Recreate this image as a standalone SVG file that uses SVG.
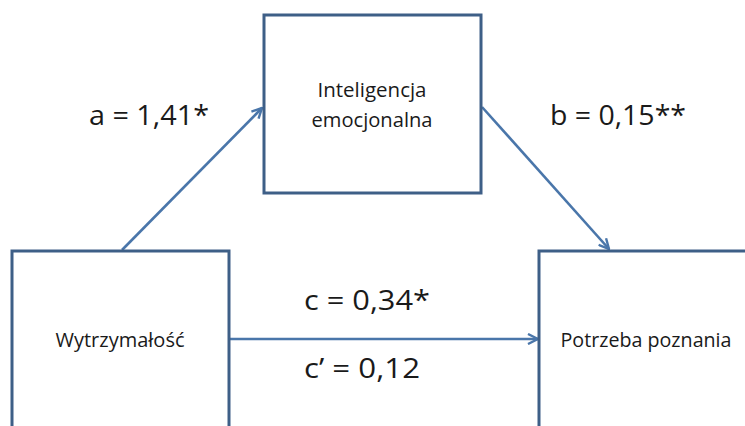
<svg xmlns="http://www.w3.org/2000/svg" width="745" height="426" viewBox="0 0 745 426">
<style>
.box{fill:#fff;stroke:#3e5f87;stroke-width:3}
.conn{stroke:#4a76aa;stroke-width:2.6;fill:none;marker-end:url(#arr)}
.lbl{font-family:"Open Sans","Liberation Sans",sans-serif;fill:#1a1a1a;font-size:28px}
.nt{font-family:"Open Sans","Liberation Sans",sans-serif;fill:#1a1a1a;font-size:20px;text-anchor:middle}
</style>
<defs>
<marker id="arr" viewBox="0 0 12 12" refX="11" refY="6" markerWidth="12" markerHeight="12" markerUnits="userSpaceOnUse" orient="auto">
<path d="M1,1 L11,6 L1,11" fill="none" stroke="#4a76aa" stroke-width="2.4"/>
</marker>
</defs>
<rect width="745" height="426" fill="#fff"/>
<g id="connectors">
<line class="conn" x1="122" y1="250" x2="262" y2="108"/>
<line class="conn" x1="482" y1="107" x2="609" y2="249"/>
<line class="conn" x1="230" y1="339" x2="538" y2="339"/>
</g>
<g id="node-inteligencja">
<rect class="box" x="264" y="15" width="217" height="178"/>
<text class="nt" x="372" y="97" textLength="109" lengthAdjust="spacingAndGlyphs">Inteligencja</text>
<text class="nt" x="372" y="127" textLength="121" lengthAdjust="spacingAndGlyphs">emocjonalna</text>
</g>
<g id="node-wytrzymalosc">
<rect class="box" x="12" y="251" width="217" height="185"/>
<text class="nt" x="120" y="347" textLength="129" lengthAdjust="spacingAndGlyphs">Wytrzymałość</text>
</g>
<g id="node-potrzeba">
<rect class="box" x="539" y="251" width="220" height="185"/>
<text class="nt" x="646" y="347" textLength="171" lengthAdjust="spacingAndGlyphs">Potrzeba poznania</text>
</g>
<g id="labels">
<text class="lbl" x="89" y="125" textLength="120" lengthAdjust="spacingAndGlyphs">a = 1,41*</text>
<text class="lbl" x="550" y="125" textLength="136" lengthAdjust="spacingAndGlyphs">b = 0,15**</text>
<text class="lbl" x="304" y="310" textLength="126" lengthAdjust="spacingAndGlyphs">c = 0,34*</text>
<text class="lbl" x="304" y="378" textLength="116" lengthAdjust="spacingAndGlyphs">c’ = 0,12</text>
</g>
</svg>
